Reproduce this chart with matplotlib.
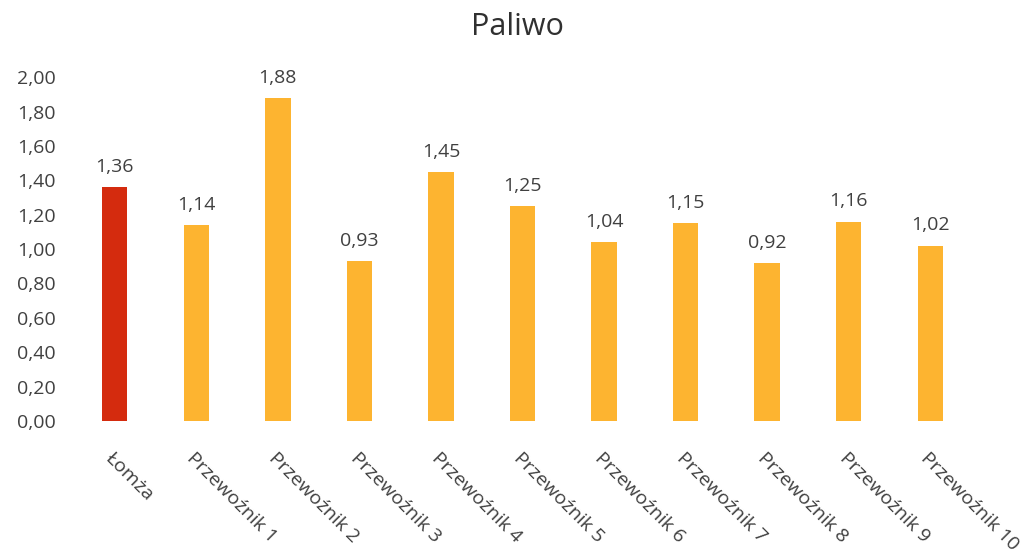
import matplotlib
matplotlib.use('Agg')
import matplotlib.pyplot as plt
from matplotlib.ticker import FuncFormatter

# dane: koszt paliwa
kategorie = ['Łomża', 'Przewoźnik 1', 'Przewoźnik 2', 'Przewoźnik 3', 'Przewoźnik 4',
             'Przewoźnik 5', 'Przewoźnik 6', 'Przewoźnik 7', 'Przewoźnik 8',
             'Przewoźnik 9', 'Przewoźnik 10']
wartosci = [1.36, 1.14, 1.88, 0.93, 1.45, 1.25, 1.04, 1.15, 0.92, 1.16, 1.02]

plt.rcParams['font.family'] = ['Open Sans', 'DejaVu Sans']
tekst = '#404040'

fig = plt.figure(figsize=(10.34, 5.55), dpi=100)
ax = fig.add_axes([0.0716, 0.2414, 0.8674, 0.6196])

kolory = ['#D42B0E'] + ['#FDB430'] * (len(wartosci) - 1)
x = range(len(wartosci))
ax.bar(x, wartosci, width=0.31, color=kolory)

for i, v in enumerate(wartosci):
    ax.text(i, v + 0.065, f'{v:.2f}'.replace('.', ','), ha='center', va='bottom',
            fontsize=14, color=tekst)

ax.set_xlim(-0.5, len(wartosci) - 0.5)
ax.set_ylim(0, 2.0)
ax.set_yticks([i * 0.2 for i in range(11)])
ax.yaxis.set_major_formatter(FuncFormatter(lambda v, p: f'{v:.2f}'.replace('.', ',')))
ax.set_xticks(list(x))
ax.set_xticklabels(kategorie, rotation=-45, ha='left', va='top', rotation_mode='anchor')
ax.tick_params(axis='both', length=0, labelsize=14, labelcolor=tekst)
ax.tick_params(axis='x', pad=20)
ax.tick_params(axis='y', pad=13)
for s in ax.spines.values():
    s.set_visible(False)

fig.text(0.5, 0.952, 'Paliwo', ha='center', va='center', fontsize=22, color='#303030')

fig.savefig('out.png', dpi=100, facecolor='white')
